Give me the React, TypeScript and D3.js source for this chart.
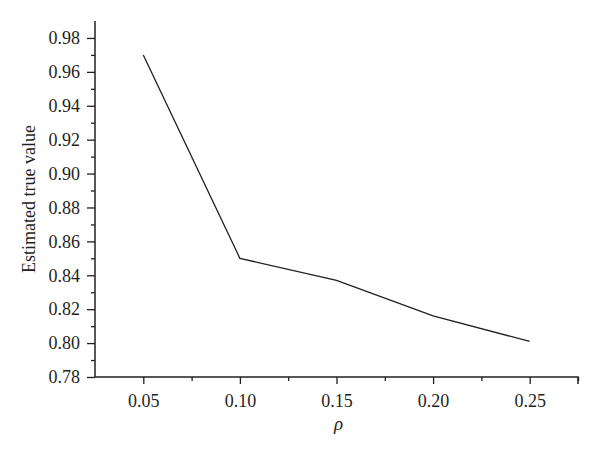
import React, { useEffect, useRef } from 'react';
import * as d3 from 'd3';

// Data.
const rhoValues = [0.05, 0.1, 0.15, 0.2, 0.25];
const estimatedValues = [0.97, 0.85, 0.837, 0.816, 0.801];
const xTickValues = [0.05, 0.1, 0.15, 0.2, 0.25];
const yTickValues = [0.78, 0.8, 0.82, 0.84, 0.86, 0.88, 0.9, 0.92, 0.94, 0.96, 0.98];

const width = 600;
const height = 456;
const margin = { top: 21, right: 22, bottom: 79, left: 95 };
const ink = '#231f20';
const font = '"Liberation Serif", "Times New Roman", serif';

const App = () => {
  const ref = useRef<SVGSVGElement>(null);

  useEffect(() => {
    const svg = d3.select(ref.current);
    svg.selectAll('*').remove();

    // Scales.
    const x = d3
      .scaleLinear()
      .domain([0.025, 0.275])
      .range([margin.left, width - margin.right]);
    const y = d3
      .scaleLinear()
      .domain([0.78, 0.99])
      .range([height - margin.bottom, margin.top]);

    // Minor ticks first, then major axes on top.
    const xMinor = d3.range(0.075, 0.276, 0.05);
    const yMinor = d3.range(0.79, 0.99, 0.02);

    const gxMinor = svg
      .append('g')
      .attr('transform', `translate(0,${height - margin.bottom})`)
      .call(d3.axisBottom(x).tickValues(xMinor).tickSize(4).tickFormat(() => ''));
    const gyMinor = svg
      .append('g')
      .attr('transform', `translate(${margin.left},0)`)
      .call(d3.axisLeft(y).tickValues(yMinor).tickSize(4).tickFormat(() => ''));
    [gxMinor, gyMinor].forEach((g) => {
      g.select('.domain').remove();
      g.selectAll('line').attr('stroke', ink).attr('stroke-width', 1.3);
    });

    const gx = svg
      .append('g')
      .attr('transform', `translate(0,${height - margin.bottom})`)
      .call(
        d3
          .axisBottom(x)
          .tickValues(xTickValues)
          .tickSize(7)
          .tickSizeOuter(7)
          .tickPadding(10)
          .tickFormat(d3.format('.2f'))
      );
    const gy = svg
      .append('g')
      .attr('transform', `translate(${margin.left},0)`)
      .call(
        d3
          .axisLeft(y)
          .tickValues(yTickValues)
          .tickSize(8)
          .tickSizeOuter(0)
          .tickPadding(7)
          .tickFormat(d3.format('.2f'))
      );
    [gx, gy].forEach((g) => {
      g.select('.domain').attr('stroke', ink).attr('stroke-width', 1.5);
      g.selectAll('line').attr('stroke', ink).attr('stroke-width', 1.3);
      g.selectAll('text')
        .attr('fill', ink)
        .style('font-family', font)
        .style('font-size', '18px');
    });
    gx.select('.domain').attr('d', `M${margin.left},0H${width - margin.right}V7`);
    gy.select('.domain').attr('d', `M0,${margin.top}V${height - margin.bottom}`);

    // The line.
    const line = d3
      .line<number>()
      .x((_, i) => x(rhoValues[i]))
      .y((d) => y(d));
    svg
      .append('path')
      .datum(estimatedValues)
      .attr('fill', 'none')
      .attr('stroke', ink)
      .attr('stroke-width', 1.3)
      .attr('d', line);

    // Axis titles.
    svg
      .append('text')
      .attr('x', x(0.15) + 2)
      .attr('y', 430)
      .attr('text-anchor', 'middle')
      .attr('fill', ink)
      .style('font-family', font)
      .style('font-size', '19px')
      .style('font-style', 'italic')
      .text('ρ');
    svg
      .append('text')
      .attr('transform', `translate(35,${(margin.top + height - margin.bottom) / 2}) rotate(-90)`)
      .attr('text-anchor', 'middle')
      .attr('fill', ink)
      .style('font-family', font)
      .style('font-size', '18px')
      .text('Estimated true value');
  }, []);

  return (
    <div style={{ position: 'absolute', left: 0, top: 0 }}>
      <svg ref={ref} width={width} height={height} style={{ display: 'block', background: '#fff' }} />
    </div>
  );
};

export default App;
